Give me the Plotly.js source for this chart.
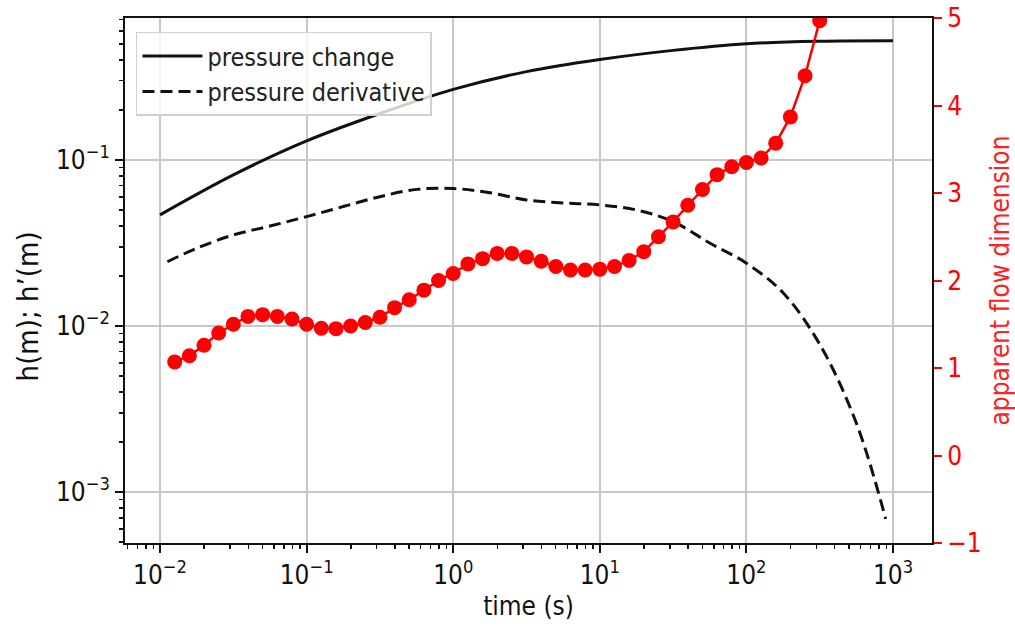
<!DOCTYPE html>
<html>
<head>
<meta charset="utf-8">
<script src="https://cdn.plot.ly/plotly-3.0.1.min.js"></script>
<style>html,body{margin:0;padding:0;background:#fff;}#chart{width:1015px;height:631px;}</style>
</head>
<body>
<div id="chart"></div>
<script>
// pressure change h(t)
const timePressure = [0.01, 0.03162, 0.1, 0.3162, 1, 3.162, 10, 31.62, 100, 316.2, 1000];
const pressureChange = [0.0467, 0.0813, 0.1303, 0.1905, 0.2661, 0.3404, 0.4027, 0.4571, 0.5012, 0.5188, 0.5224];

// pressure derivative h'(t)
const timeDerivative = [0.01122, 0.01778, 0.03162, 0.05623, 0.1, 0.1778, 0.3162, 0.5623, 1, 1.778, 3.162, 5.623, 10, 17.78, 31.62, 56.23, 100, 177.8, 316.2, 562.3, 891.3];
const pressureDerivative = [0.02438, 0.02938, 0.03532, 0.0400, 0.0456, 0.0524, 0.0601, 0.0665, 0.0673, 0.0635, 0.0574, 0.0551, 0.0536, 0.0500, 0.0425, 0.0316, 0.0239, 0.01585, 0.00776, 0.0026, 0.00069];

// apparent flow dimension n(t)
const timeFlowDim = [0.01259, 0.01585, 0.01995, 0.02512, 0.03162, 0.03981, 0.05012, 0.0631, 0.07943, 0.1,
  0.1259, 0.1585, 0.1995, 0.2512, 0.3162, 0.3981, 0.5012, 0.631, 0.7943, 1,
  1.259, 1.585, 1.995, 2.512, 3.162, 3.981, 5.012, 6.31, 7.943, 10,
  12.59, 15.85, 19.95, 25.12, 31.62, 39.81, 50.12, 63.1, 79.43, 100,
  125.9, 158.5, 199.5, 251.2, 316.2];
const flowDimension = [1.07, 1.14, 1.26, 1.40, 1.50, 1.59, 1.61, 1.59, 1.56, 1.50,
  1.455, 1.45, 1.48, 1.52, 1.58, 1.69, 1.78, 1.89, 2.00, 2.08,
  2.19, 2.25, 2.31, 2.31, 2.27, 2.22, 2.16, 2.12, 2.12, 2.13,
  2.16, 2.23, 2.33, 2.50, 2.67, 2.86, 3.04, 3.21, 3.30, 3.35,
  3.40, 3.57, 3.87, 4.34, 4.97];

// tick labels
const xTickVals = [0.01, 0.1, 1, 10, 100, 1000];
const xTickText = ['10<sup>\u22122</sup>', '10<sup>\u22121</sup>', '10<sup>0</sup>', '10<sup>1</sup>', '10<sup>2</sup>', '10<sup>3</sup>'];
const yTickVals = [0.001, 0.01, 0.1];
const yTickText = ['10<sup>\u22123</sup>', '10<sup>\u22122</sup>', '10<sup>\u22121</sup>'];
const y2TickVals = [-1, 0, 1, 2, 3, 4, 5];
const y2TickText = ['\u22121', '0', '1', '2', '3', '4', '5'];

function minorVals(d0, d1) {
  const v = [];
  for (let d = d0; d <= d1; d++) for (let m = 2; m <= 9; m++) v.push(m * Math.pow(10, d));
  return v;
}

const FONT = '"DejaVu Sans Condensed", "DejaVu Sans", sans-serif';
const FS = 26;
const traces = [
  { x: timePressure, y: pressureChange, type: 'scatter', mode: 'lines', name: 'pressure change',
    line: { color: '#111', width: 3, shape: 'spline', smoothing: 1 }, xaxis: 'x', yaxis: 'y' },
  { x: timeDerivative, y: pressureDerivative, type: 'scatter', mode: 'lines', name: 'pressure derivative',
    line: { color: '#111', width: 3, dash: '12px,6px', shape: 'spline', smoothing: 1 }, xaxis: 'x', yaxis: 'y' },
  { x: timeFlowDim, y: flowDimension, type: 'scatter', mode: 'lines+markers', name: 'apparent flow dimension',
    line: { color: '#ff0000', width: 2.5 }, marker: { color: '#ff0000', size: 15 },
    xaxis: 'x', yaxis: 'y2', showlegend: false }
];

const layout = {
  width: 1015, height: 631,
  margin: { l: 125, r: 83, t: 18, b: 88 },
  paper_bgcolor: '#fff', plot_bgcolor: '#fff',
  font: { family: FONT, size: FS, color: '#111' },
  showlegend: true,
  legend: {
    x: 0.0136, y: 0.974, xanchor: 'left', yanchor: 'top',
    itemwidth: 60,
    bgcolor: 'rgba(255,255,255,0.8)', bordercolor: '#d0d0d0', borderwidth: 1.5,
    font: { family: FONT, size: 25, color: '#222' }
  },
  xaxis: {
    type: 'log', range: [-2.239, 3.266],
    tickmode: 'array', tickvals: xTickVals, ticktext: xTickText,
    ticks: 'outside', ticklen: 8, tickwidth: 2, tickcolor: '#111',
    showgrid: true, gridcolor: '#c8c8c8', gridwidth: 2,
    showline: true, linecolor: '#111', linewidth: 2, mirror: true,
    zeroline: false,
    minor: { tickmode: 'array', tickvals: minorVals(-3, 3), ticks: 'outside', ticklen: 4, tickwidth: 1.5, tickcolor: '#111', showgrid: false },
    title: { text: 'time (s)', font: { family: FONT, size: FS, color: '#111' }, standoff: 8 }
  },
  yaxis: {
    type: 'log', range: [-3.307, -0.145],
    tickmode: 'array', tickvals: yTickVals, ticktext: yTickText,
    ticks: 'outside', ticklen: 8, tickwidth: 2, tickcolor: '#111',
    showgrid: true, gridcolor: '#c8c8c8', gridwidth: 2,
    showline: true, linecolor: '#111', linewidth: 2,
    zeroline: false,
    minor: { tickmode: 'array', tickvals: minorVals(-4, -1), ticks: 'outside', ticklen: 4, tickwidth: 1.5, tickcolor: '#111', showgrid: false }
  },
  yaxis2: {
    overlaying: 'y', side: 'right', range: [-1, 5],
    tickmode: 'array', tickvals: y2TickVals, ticktext: y2TickText,
    ticks: 'outside', ticklen: 8, tickwidth: 2, tickcolor: '#ff0000',
    tickfont: { family: FONT, size: FS, color: '#ff0000' },
    showgrid: false, zeroline: false,
    showline: true, linecolor: '#111', linewidth: 2,
    title: { text: 'apparent flow dimension', font: { family: FONT, size: 26, color: '#ff2020' }, standoff: 10 }
  },
  annotations: [
    { text: 'h(m); h\u2019(m)', xref: 'paper', yref: 'paper', x: -0.120, y: 0.451,
      xanchor: 'center', yanchor: 'middle', textangle: -90, showarrow: false,
      font: { family: FONT, size: 29, color: '#111' } }
  ]
};

Plotly.newPlot('chart', traces, layout, { displayModeBar: false, staticPlot: true });
</script>
</body>
</html>
